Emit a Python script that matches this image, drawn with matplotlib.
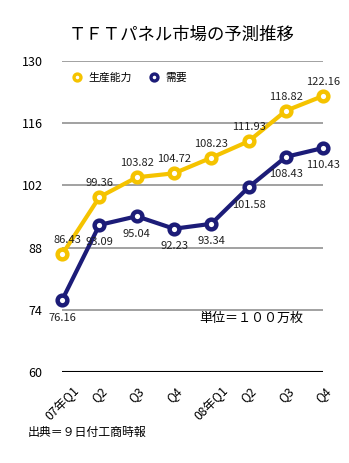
import matplotlib
matplotlib.use("Agg")
import matplotlib.pyplot as plt
from matplotlib.lines import Line2D

plt.rcParams['font.family'] = ['Noto Sans CJK JP', 'DejaVu Sans']

categories = ["07年Q1", "Q2", "Q3", "Q4", "08年Q1", "Q2", "Q3", "Q4"]
capacity = [86.43, 99.36, 103.82, 104.72, 108.23, 111.93, 118.82, 122.16]
demand = [76.16, 93.09, 95.04, 92.23, 93.34, 101.58, 108.43, 110.43]
yticks = [60, 74, 88, 102, 116, 130]

yellow = "#F5C300"
navy = "#1C1C78"

fig = plt.figure(figsize=(3.49, 4.63), dpi=100)
ax = fig.add_axes([0.178, 0.197, 0.748, 0.671])
x = list(range(len(categories)))

for y in yticks[1:]:
    ax.axhline(y, color="#9a9a9a", lw=1.3, zorder=0)
ax.axhline(60, color="black", lw=1.5, zorder=0)

ax.plot(x, capacity, color=yellow, lw=3.0, marker="o", ms=7, mfc="white",
        mec=yellow, mew=3.2, clip_on=False, zorder=3)
ax.plot(x, demand, color=navy, lw=3.0, marker="o", ms=7, mfc="white",
        mec=navy, mew=3.2, clip_on=False, zorder=3)

for i, v in enumerate(capacity):
    dx = 4 if i == 0 else 0
    ax.annotate(f"{v:.2f}", (i, v), xytext=(dx, 6.5), textcoords="offset points",
                ha="center", va="bottom", fontsize=8, color="#222222")
for i, v in enumerate(demand):
    ax.annotate(f"{v:.2f}", (i, v), xytext=(0, -9), textcoords="offset points",
                ha="center", va="top", fontsize=8, color="#222222")

ax.set_xlim(0, 7)
ax.set_ylim(60, 130)
ax.set_yticks(yticks)
ax.set_yticklabels([str(t) for t in yticks], fontsize=9)
ax.set_xticks(x)
ax.set_xticklabels(categories, rotation=45, ha="center", fontsize=8.8)
ax.tick_params(length=0, pad=14)
ax.tick_params(axis="x", pad=9)
for s in ax.spines.values():
    s.set_visible(False)

handles = [
    Line2D([], [], ls="none", marker="o", ms=5, mfc="white", mec=yellow, mew=2.4),
    Line2D([], [], ls="none", marker="o", ms=5, mfc="white", mec=navy, mew=2.4),
]
ax.legend(handles, ["生産能力", "需要"], loc="upper left", bbox_to_anchor=(0.0, 0.995),
          ncol=2, frameon=False, fontsize=7.8, handlelength=1.0, handletextpad=0.5,
          columnspacing=1.6)

fig.text(0.52, 0.925, "ＴＦＴパネル市場の予測推移", ha="center", va="center", fontsize=12.5)
fig.text(0.572, 0.313, "単位＝１００万枚", ha="left", va="center", fontsize=9.4)
fig.text(0.08, 0.066, "出典＝９日付工商時報", ha="left", va="center", fontsize=8.6)

fig.savefig("out.png", dpi=100)
